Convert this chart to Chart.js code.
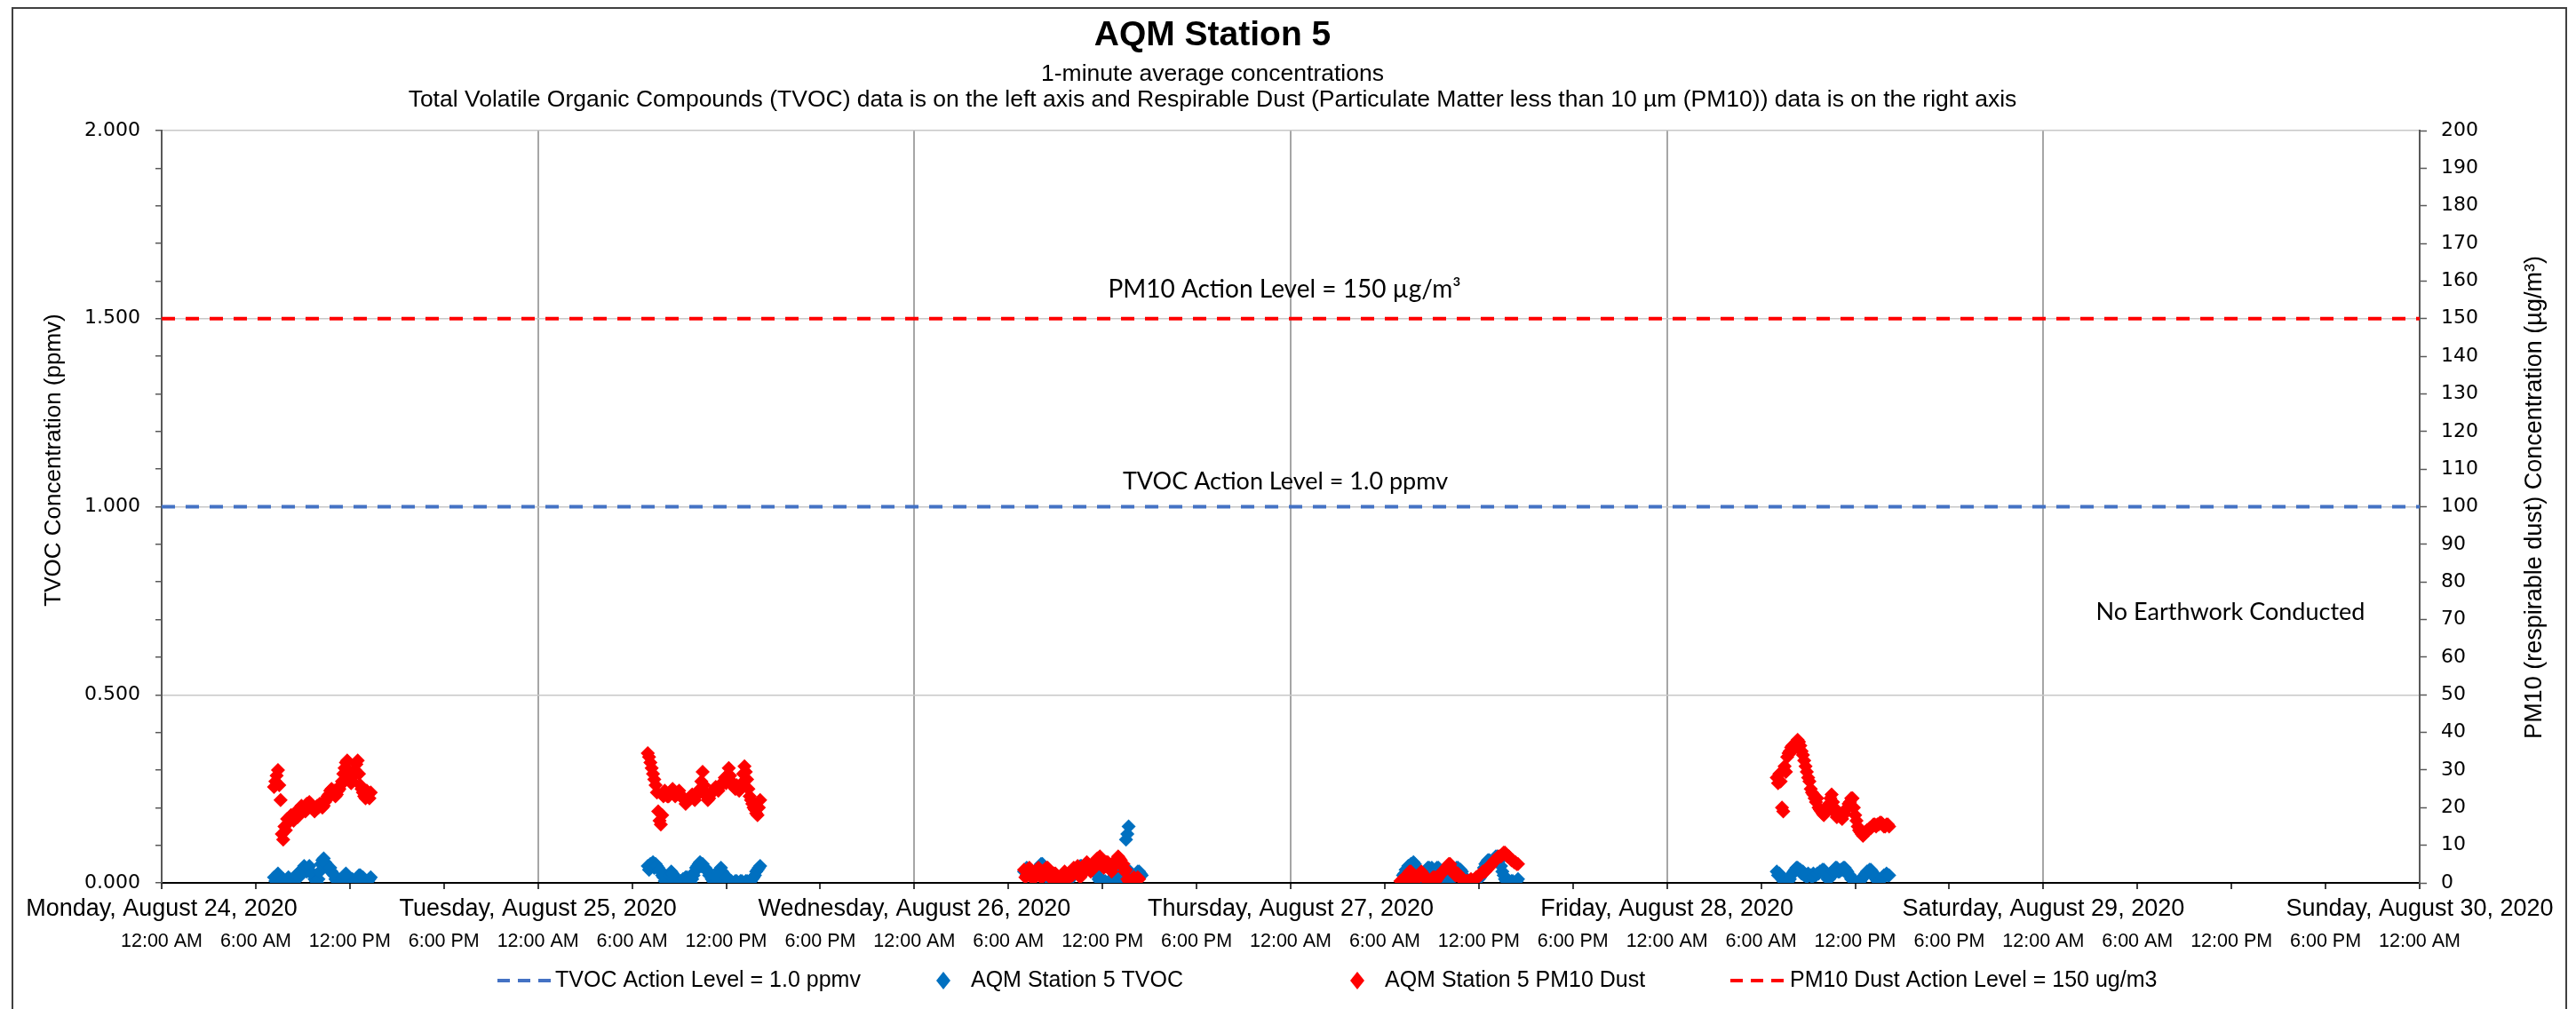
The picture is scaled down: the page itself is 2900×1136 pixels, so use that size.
<!DOCTYPE html>
<html>
<head>
<meta charset="utf-8">
<title>AQM Station 5</title>
<script src="https://cdn.jsdelivr.net/npm/chart.js@4.4.0/dist/chart.umd.min.js"></script>
<style>
    html, body { margin: 0; padding: 0; background: #fff; }
    #wrap { width: 2900px; height: 1136px; position: relative; }
</style>
</head>
<body>
<div id="wrap"><canvas id="aqm_chart"></canvas></div>
<script>
// axis labels
const dayLabels = [
    "Monday, August 24, 2020", "Tuesday, August 25, 2020", "Wednesday, August 26, 2020",
    "Thursday, August 27, 2020", "Friday, August 28, 2020", "Saturday, August 29, 2020",
    "Sunday, August 30, 2020"
];
const timeLabels = ["12:00 AM", "6:00 AM", "12:00 PM", "6:00 PM"];

// action levels
const TVOC_ACTION = 1.0;   // ppmv, left axis
const PM10_ACTION = 150;   // ug/m3, right axis

// readings, one value every 5 minutes from the session start time
const SAMPLE_MIN = 5;
const sessionDay = [0, 1, 2, 3, 4];
const tvocStart = ["07:10", "07:00", "07:00", "07:10", "07:00"];
const pm10Start = ["07:10", "07:00", "07:00", "07:00", "07:00"];

// TVOC (ppmv)
const tvocMon = [0.015, 0.005, 0.02, 0.025, 0.01, 0.0, 0.005, 0.01, 0.0, 0.0,
    0.005, 0.015, 0.01, 0.0, 0.005, 0.01, 0.015, 0.02, 0.025, 0.015,
    0.03, 0.025, 0.035, 0.045, 0.04, 0.03, 0.04, 0.045, 0.03, 0.025,
    0.02, 0.01, 0.005, 0.0, 0.01, 0.03, 0.05, 0.06, 0.065, 0.055,
    0.05, 0.04, 0.035, 0.04, 0.03, 0.025, 0.02, 0.01, 0.005, 0.0,
    0.0, 0.005, 0.01, 0.015, 0.02, 0.025, 0.02, 0.01, 0.005, 0.0,
    0.01, 0.005, 0.0, 0.005, 0.01, 0.02, 0.02, 0.015, 0.015, 0.005,
    0.0, 0.0, 0.005, 0.01, 0.015];
const tvocTue = [0.045, 0.035, 0.05, 0.045, 0.055, 0.04, 0.05, 0.045, 0.04, 0.035,
    0.03, 0.02, 0.015, 0.005, 0.005, 0.0, 0.01, 0.02, 0.03, 0.025,
    0.02, 0.01, 0.005, 0.0, 0.0, 0.005, 0.005, 0.01, 0.01, 0.015,
    0.015, 0.01, 0.005, 0.0, 0.01, 0.02, 0.03, 0.04, 0.045, 0.05,
    0.055, 0.045, 0.05, 0.04, 0.04, 0.035, 0.03, 0.02, 0.02, 0.01,
    0.005, 0.0, 0.0, 0.01, 0.025, 0.035, 0.04, 0.03, 0.025, 0.02,
    0.015, 0.005, 0.01, 0.0, 0.005, 0.0, 0.0, 0.005, 0.005, 0.0,
    0.0, 0.005, 0.005, 0.0, 0.0, 0.005, 0.005, 0.0, 0.0, 0.005,
    0.01, 0.015, 0.02, 0.03, 0.035, 0.04, 0.045];
const tvocWed = [0.03, 0.035, 0.04, 0.03, 0.035, 0.025, 0.03, 0.02, 0.025, 0.03,
    0.035, 0.04, 0.045, 0.05, 0.05, 0.045, 0.04, 0.03, 0.02, 0.01,
    0.005, 0.0, 0.0, 0.005, 0.005, 0.0, 0.0, 0.005, 0.005, 0.0,
    0.0, 0.005, 0.01, 0.005, 0.005, 0.01, 0.015, 0.02, 0.02, 0.025,
    0.03, 0.035, 0.04, 0.045, 0.045, 0.04, 0.04, 0.035, 0.035, 0.04,
    0.04, 0.045, 0.045, 0.04, 0.035, 0.03, 0.02, 0.01, 0.005, 0.0,
    0.0, 0.005, 0.005, 0.0, 0.0, 0.005, 0.005, 0.0, 0.0, 0.005,
    0.01, 0.005, 0.005, 0.01, 0.02, 0.03, 0.04, 0.035, 0.115, 0.13,
    0.15, 0.03, 0.02, 0.01, 0.01, 0.02, 0.025, 0.03, 0.03, 0.025,
    0.02];
const tvocThu = [0.02, 0.025, 0.035, 0.03, 0.045, 0.04, 0.05, 0.045, 0.055, 0.05,
    0.04, 0.03, 0.02, 0.015, 0.01, 0.015, 0.025, 0.03, 0.035, 0.04,
    0.04, 0.035, 0.04, 0.035, 0.03, 0.035, 0.04, 0.04, 0.035, 0.03,
    0.02, 0.01, 0.005, 0.0, 0.0, 0.005, 0.005, 0.01, 0.02, 0.03,
    0.035, 0.04, 0.04, 0.035, 0.035, 0.03, 0.02, 0.01, 0.005, 0.0,
    0.0, 0.005, 0.005, 0.0, 0.0, 0.005, 0.005, 0.01, 0.01, 0.015,
    0.02, 0.03, 0.04, 0.05, 0.055, 0.06, 0.06, 0.055, 0.055, 0.06,
    0.065, 0.07, 0.07, 0.065, 0.06, 0.045, 0.03, 0.02, 0.01, 0.005,
    0.005, 0.0, 0.0, 0.005, 0.005, 0.0, 0.0, 0.005, 0.01];
const tvocFri = [0.03, 0.02, 0.025, 0.015, 0.01, 0.005, 0.0, 0.0, 0.005, 0.005,
    0.01, 0.02, 0.025, 0.03, 0.035, 0.04, 0.04, 0.035, 0.035, 0.025,
    0.03, 0.02, 0.02, 0.015, 0.025, 0.02, 0.02, 0.015, 0.025, 0.02,
    0.02, 0.025, 0.025, 0.03, 0.03, 0.035, 0.035, 0.025, 0.02, 0.01,
    0.01, 0.015, 0.02, 0.03, 0.035, 0.04, 0.04, 0.03, 0.03, 0.035,
    0.035, 0.04, 0.04, 0.035, 0.03, 0.02, 0.02, 0.01, 0.01, 0.005,
    0.005, 0.0, 0.0, 0.005, 0.005, 0.01, 0.015, 0.02, 0.025, 0.03,
    0.03, 0.035, 0.035, 0.03, 0.025, 0.015, 0.01, 0.005, 0.005, 0.005,
    0.01, 0.015, 0.02, 0.02, 0.025, 0.02, 0.02];

// PM10 dust (ug/m3)
const pm10Mon = [25.5, 27, 28.5, 30, 26, 22, 13, 11.5, 15, 14,
    17, 16, 16.5, 18, 17, 16.5, 18, 19, 17.5, 18.5,
    19, 20.5, 20, 19.5, 19, 21, 20, 21.5, 21, 20,
    20, 19, 19.5, 20.5, 20, 21, 21, 20, 20.5, 21.5,
    22, 23, 23.5, 24.5, 25, 24, 24.5, 23, 23.5, 24.5,
    25, 26, 27, 29, 30.5, 32, 32.5, 30, 28, 26.5,
    27, 28.5, 30, 31.5, 32.5, 29, 26, 25, 24, 23,
    22.5, 24.5, 23.5, 22.5, 24];
const pm10Tue = [34.5, 33.5, 32, 30.5, 29, 27.5, 26, 24, 19, 16.5,
    15.5, 18, 23, 24.5, 24, 23, 23, 24, 24.5, 25,
    24, 23, 23.5, 24, 24.5, 23.5, 23, 22.5, 22, 21,
    21.5, 22, 22.5, 23, 23.5, 22.5, 22, 23, 24, 24.5,
    25, 27, 29.5, 26, 24, 23, 22, 22.5, 23.5, 24,
    24.5, 25, 25.5, 25, 24.5, 25.5, 26, 26.5, 27, 28,
    26.5, 28.5, 30.5, 28.5, 27, 26, 25.5, 25, 26, 25,
    24.5, 25.5, 26.5, 29, 31, 29.5, 27.5, 25, 23, 22,
    21, 20, 19.5, 18.5, 18, 20, 22];
const pm10Wed = [3.5, 1.5, 2, 3, 4, 2.5, 3, 1, 1.5, 2.5,
    3.5, 4, 2.5, 1.5, 1.5, 2.5, 3, 4, 4, 3,
    2.5, 1, 1.5, 2.5, 2.5, 1.5, 1.5, 0.5, 1, 1.5,
    2, 3, 1.5, 1, 2.5, 1.5, 3, 2, 4, 3.5,
    3, 4.5, 2, 1.5, 3.5, 2.5, 4.5, 3.5, 5.5, 5,
    4.5, 3, 3.5, 4.5, 5, 6, 6.5, 5, 7, 6,
    5.5, 4, 4.5, 5.5, 5.5, 4.5, 4, 3, 5, 4.5,
    6, 5.5, 7, 6.5, 6, 4.5, 5, 3, 3.5, 1,
    0.5, 0, 0.5, 1, 1.5, 0.5, 0.5, 1.5, 1];
const pm10Thu = [0.5, 0, 1, 0.5, 1.5, 2, 2.5, 3, 3, 2,
    1.5, 0.5, 1, 1.5, 2, 2.5, 3, 2.5, 2, 1,
    1, 0.5, 0.5, 0, 1, 1.5, 1.5, 0.5, 1, 1.5,
    2, 2.5, 3, 3, 3.5, 4, 4.5, 5, 5, 4,
    3.5, 2.5, 2, 2, 2.5, 2, 1.5, 1, 0.5, 0,
    0.5, 0.5, 0.5, 0, 1, 0.5, 0.5, 1, 1.5, 1.5,
    2, 2, 2.5, 3, 3, 3, 3.5, 4, 4.5, 4.5,
    5, 5.5, 6, 6, 6.5, 7, 7, 7, 7.5, 8,
    8, 7.5, 7, 7, 6.5, 6, 6, 5.5, 5.5, 5, 5];
const pm10Fri = [28, 26.5, 29, 27, 20, 19, 31, 29.5, 33.5, 34.5,
    35, 36, 36.5, 35.5, 37, 37.5, 38, 37.5, 36.5, 35,
    34, 32.5, 31, 29.5, 28, 27, 25, 24, 23.5, 22.5,
    21.5, 22.5, 20, 19.5, 19, 18.5, 18, 19, 19.5, 20.5,
    21, 22.5, 23.5, 21.5, 20, 18.5, 17.5, 18, 18.5, 17.5,
    17, 18, 18.5, 19.5, 20, 21, 21.5, 22.5, 22.5, 20,
    18, 16.5, 15, 14, 13.5, 13, 12.5, 13, 13.5, 14,
    14, 14.5, 14.5, 15, 15.5, 15.5, 15, 15.5, 15.5, 16,
    16, 15.5, 15, 15, 15.5, 15.5, 15];

const tvocDays = [tvocMon, tvocTue, tvocWed, tvocThu, tvocFri];
const pm10Days = [pm10Mon, pm10Tue, pm10Wed, pm10Thu, pm10Fri];

// x is hours since Monday 12:00 AM
function toPoints(days, starts) {
    let out = [];
    days.forEach((vals, d) => {
        const [hh, mm] = starts[d].split(":").map(Number);
        const t0 = sessionDay[d] * 24 + hh + mm / 60;
        vals.forEach((v, i) => {
            out.push({ x: t0 + i * SAMPLE_MIN / 60, y: v });
        });
    });
    return out;
}

const X_MAX = (dayLabels.length - 1) * 24;

const isHalf = (v) => Math.abs(v * 2 - Math.round(v * 2)) < 1e-6;

const ARIAL = "'Liberation Sans', Arial, sans-serif";
const VERDANA = "'DejaVu Sans', Verdana, sans-serif";
const CALIBRI = "Lato, 'Open Sans', sans-serif";

// titles, axis titles, notes and legend
const chartText = {
    id: "chartText",
    beforeDraw(chart) {
        const ctx = chart.ctx;
        ctx.save();
        ctx.fillStyle = "#fff";
        ctx.fillRect(0, 0, chart.width, chart.height);
        ctx.strokeStyle = "#404040";
        ctx.lineWidth = 2;
        ctx.strokeRect(14, 9, 2875, 1140);
        ctx.restore();
    },
    afterDraw(chart) {
        const ctx = chart.ctx;
        const y = chart.scales.y;
        const y2 = chart.scales.y2;
        ctx.save();
        ctx.fillStyle = "#000";
        ctx.textAlign = "center";
        ctx.textBaseline = "middle";

        ctx.font = "bold 39px " + ARIAL;
        ctx.fillText("AQM Station 5", 1365, 40);
        ctx.font = "26.5px " + ARIAL;
        ctx.fillText("1-minute average concentrations", 1365, 84);
        ctx.fillText("Total Volatile Organic Compounds (TVOC) data is on the left axis and Respirable Dust (Particulate Matter less than 10 µm (PM10)) data is on the right axis", 1365, 113);

        // axis titles
        ctx.font = "26px " + ARIAL;
        ctx.save();
        ctx.translate(61, 518);
        ctx.rotate(-Math.PI / 2);
        ctx.fillText("TVOC Concentration (ppmv)", 0, 0);
        ctx.restore();
        ctx.font = "27px " + ARIAL;
        ctx.save();
        ctx.translate(2854, 560);
        ctx.rotate(-Math.PI / 2);
        ctx.fillText("PM10 (respirable dust) Concentration (µg/m³)", 0, 0);
        ctx.restore();

        // notes in the plot
        ctx.font = "28px " + CALIBRI;
        ctx.fillText("PM10 Action Level = 150 µg/m³", 1446, y2.getPixelForValue(PM10_ACTION) - 33);
        ctx.font = "27px " + CALIBRI;
        ctx.fillText("TVOC Action Level = 1.0 ppmv", 1447, y.getPixelForValue(TVOC_ACTION) - 28);
        ctx.fillText("No Earthwork Conducted", 2511, 689);

        // legend
        const ly = 1104;
        ctx.font = "25px " + ARIAL;
        ctx.textAlign = "left";
        chart.data.datasets.forEach((ds, i) => {
            const pos = [[560, 620, 625], [1062, 1062, 1093], [1528, 1528, 1559], [1948, 2010, 2015]][i];
            if (ds.type === "line") {
                ctx.save();
                ctx.strokeStyle = ds.borderColor;
                ctx.lineWidth = 4;
                ctx.setLineDash([14, 9]);
                ctx.beginPath();
                ctx.moveTo(pos[0], ly);
                ctx.lineTo(pos[1], ly);
                ctx.stroke();
                ctx.restore();
            } else {
                ctx.fillStyle = ds.backgroundColor;
                ctx.beginPath();
                ctx.moveTo(pos[0], ly - 10);
                ctx.lineTo(pos[0] + 8, ly);
                ctx.lineTo(pos[0], ly + 10);
                ctx.lineTo(pos[0] - 8, ly);
                ctx.closePath();
                ctx.fill();
            }
            ctx.fillStyle = "#000";
            ctx.fillText(ds.label, pos[2], ly);
        });
        ctx.restore();
    }
};

new Chart(document.getElementById("aqm_chart"), {
    type: "scatter",
    data: {
        datasets: [
            {
                type: "line",
                label: "TVOC Action Level = 1.0 ppmv",
                data: [{ x: 0, y: TVOC_ACTION }, { x: X_MAX, y: TVOC_ACTION }],
                yAxisID: "y",
                borderColor: "#4472C4",
                borderWidth: 4,
                borderDash: [15, 12],
                pointRadius: 0,
                order: 0
            },
            {
                label: "AQM Station 5 TVOC",
                data: toPoints(tvocDays, tvocStart),
                yAxisID: "y",
                backgroundColor: "#0070C0",
                pointStyle: "rectRot",
                pointRadius: 8,
                pointBorderWidth: 0,
                order: 3
            },
            {
                label: "AQM Station 5 PM10 Dust",
                data: toPoints(pm10Days, pm10Start),
                yAxisID: "y2",
                backgroundColor: "#FF0000",
                pointStyle: "rectRot",
                pointRadius: 8,
                pointBorderWidth: 0,
                order: 2
            },
            {
                type: "line",
                label: "PM10 Dust Action Level = 150 ug/m3",
                data: [{ x: 0, y: PM10_ACTION }, { x: X_MAX, y: PM10_ACTION }],
                yAxisID: "y2",
                borderColor: "#FF0000",
                borderWidth: 4,
                borderDash: [15, 12],
                pointRadius: 0,
                order: 0
            }
        ]
    },
    options: {
        responsive: true,
        maintainAspectRatio: false,
        animation: false,
        events: [],
        layout: { padding: { top: 147, left: 0, right: 0, bottom: 57 } },
        plugins: {
            legend: { display: false },
            title: { display: false },
            tooltip: { enabled: false }
        },
        scales: {
            x: {
                type: "linear",
                position: "bottom",
                weight: 0,
                min: 0,
                max: X_MAX,
                afterFit: (s) => { s.height = 45; },
                ticks: {
                    stepSize: 6,
                    autoSkip: false,
                    maxTicksLimit: 1000,
                    maxRotation: 0,
                    minRotation: 0,
                    padding: 6,
                    color: "#000",
                    font: { family: ARIAL, size: 27 },
                    callback: (v) => (v % 24 === 0 ? dayLabels[v / 24] : "")
                },
                grid: {
                    color: (c) => (c.tick && c.tick.value % 24 === 0 ? "#a6a6a6" : "rgba(0,0,0,0)"),
                    lineWidth: 2,
                    tickColor: "#000",
                    tickLength: 7,
                    tickWidth: 1.5
                },
                border: { color: "#000", width: 2 }
            },
            xTime: {
                type: "linear",
                position: "bottom",
                weight: 1,
                min: 0,
                max: X_MAX,
                afterFit: (s) => { s.height = 40; },
                ticks: {
                    stepSize: 6,
                    autoSkip: false,
                    maxTicksLimit: 1000,
                    maxRotation: 0,
                    minRotation: 0,
                    padding: 8,
                    color: "#000",
                    font: { family: ARIAL, size: 21.5 },
                    callback: (v) => timeLabels[(v / 6) % 4]
                },
                grid: { display: false, drawTicks: false },
                border: { display: false }
            },
            y: {
                position: "left",
                min: 0,
                max: 2,
                afterFit: (s) => { s.width = 182; },
                ticks: {
                    stepSize: 0.1,
                    autoSkip: false,
                    maxTicksLimit: 1000,
                    padding: 17,
                    color: "#000",
                    font: { family: VERDANA, size: 22 },
                    callback: (v) => (isHalf(v) ? v.toFixed(3) : "")
                },
                grid: {
                    color: (c) => (c.tick && c.tick.value > 0 && isHalf(c.tick.value) ? "#c8c8c8" : "rgba(0,0,0,0)"),
                    lineWidth: 1.5,
                    tickColor: "#595959",
                    tickLength: 7,
                    tickWidth: 1.5
                },
                border: { color: "#595959", width: 2 }
            },
            y2: {
                position: "right",
                min: 0,
                max: 200,
                afterFit: (s) => { s.width = 176; },
                ticks: {
                    stepSize: 10,
                    autoSkip: false,
                    maxTicksLimit: 1000,
                    padding: 16,
                    color: "#000",
                    font: { family: VERDANA, size: 22 }
                },
                grid: {
                    drawOnChartArea: false,
                    color: "#595959",
                    tickColor: "#595959",
                    tickLength: 8,
                    tickWidth: 1.5
                },
                border: { color: "#595959", width: 2 }
            }
        }
    },
    plugins: [chartText]
});
</script>
</body>
</html>
